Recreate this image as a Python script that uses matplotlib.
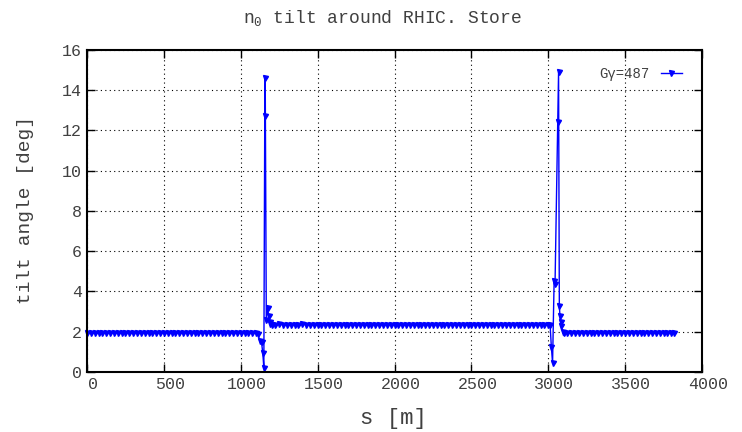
import matplotlib
matplotlib.use('Agg')
import matplotlib.pyplot as plt
import matplotlib.transforms as mtransforms

# s positions [m] and n0 tilt [deg] around the ring, piece by piece
s_arc_a = [0, 25, 50, 75, 100, 125, 150, 175, 200, 225,
           250, 275, 300, 325, 350, 375, 400, 425, 450, 475,
           500, 525, 550, 575, 600, 625, 650, 675, 700, 725,
           750, 775, 800, 825, 850, 875, 900, 925, 950, 975,
           1000, 1025, 1050, 1075, 1100]
tilt_arc_a = [1.92, 1.92, 1.93, 1.92, 1.92, 1.92, 1.92, 1.93, 1.92, 1.92,
              1.92, 1.92, 1.92, 1.92, 1.92, 1.92, 1.92, 1.92, 1.92, 1.92,
              1.92, 1.92, 1.92, 1.95, 1.92, 1.92, 1.92, 1.92, 1.92, 1.92,
              1.92, 1.92, 1.92, 1.92, 1.92, 1.92, 1.92, 1.92, 1.92, 1.92,
              1.92, 1.92, 1.92, 1.92, 1.92]

s_ir_a = [1112, 1124, 1135, 1143, 1150, 1156, 1159, 1166, 1175, 1181, 1187, 1193]
tilt_ir_a = [1.90, 1.52, 1.48, 0.95, 0.22, 12.7, 14.6, 2.6, 3.2, 2.8, 2.5, 2.38]

s_arc_b = [1200, 1225, 1250, 1275, 1300, 1325, 1350, 1375, 1400, 1425,
           1450, 1475, 1500, 1525, 1550, 1575, 1600, 1625, 1650, 1675,
           1700, 1725, 1750, 1775, 1800, 1825, 1850, 1875, 1900, 1925,
           1950, 1975, 2000, 2025, 2050, 2075, 2100, 2125, 2150, 2175,
           2200, 2225, 2250, 2275, 2300, 2325, 2350, 2375, 2400, 2425,
           2450, 2475, 2500, 2525, 2550, 2575, 2600, 2625, 2650, 2675,
           2700, 2725, 2750, 2775, 2800, 2825, 2850, 2875, 2900, 2925,
           2950, 2975, 3000]
tilt_arc_b = [2.35, 2.35, 2.36, 2.35, 2.35, 2.35, 2.35, 2.35, 2.36, 2.35,
              2.35, 2.35, 2.35, 2.35, 2.35, 2.35, 2.35, 2.35, 2.35, 2.35,
              2.35, 2.35, 2.35, 2.35, 2.35, 2.33, 2.35, 2.35, 2.35, 2.35,
              2.35, 2.35, 2.35, 2.35, 2.35, 2.35, 2.35, 2.35, 2.35, 2.35,
              2.35, 2.35, 2.35, 2.35, 2.35, 2.35, 2.35, 2.35, 2.35, 2.35,
              2.35, 2.35, 2.33, 2.35, 2.35, 2.35, 2.35, 2.35, 2.35, 2.35,
              2.35, 2.35, 2.35, 2.35, 2.35, 2.35, 2.35, 2.35, 2.35, 2.35,
              2.35, 2.35, 2.35]

s_ir_b = [3012, 3020, 3028, 3038, 3044, 3062, 3067, 3072, 3076, 3080, 3086, 3094]
tilt_ir_b = [2.35, 1.25, 0.45, 4.5, 4.35, 12.4, 14.9, 3.3, 2.8, 2.5, 2.3, 2.0]

s_arc_c = [3100, 3125, 3150, 3175, 3200, 3225, 3250, 3275, 3300, 3325,
           3350, 3375, 3400, 3425, 3450, 3475, 3500, 3525, 3550, 3575,
           3600, 3625, 3650, 3675, 3700, 3725, 3750, 3775, 3800, 3820]
tilt_arc_c = [1.92, 1.92, 1.93, 1.92, 1.92, 1.93, 1.92, 1.92, 1.92, 1.92,
              1.92, 1.92, 1.92, 1.92, 1.92, 1.92, 1.92, 1.92, 1.92, 1.92,
              1.92, 1.92, 1.92, 1.92, 1.92, 1.92, 1.92, 1.92, 1.92, 1.92]

x_ticks = [0, 500, 1000, 1500, 2000, 2500, 3000, 3500, 4000]
y_ticks = [0, 2, 4, 6, 8, 10, 12, 14, 16]

plt.rcParams['font.family'] = ['Liberation Mono', 'DejaVu Sans Mono']
plt.rcParams['mathtext.fontset'] = 'custom'
plt.rcParams['mathtext.rm'] = 'Liberation Mono'
plt.rcParams['mathtext.default'] = 'rm'

txt = '#404040'

s = s_arc_a + s_ir_a + s_arc_b + s_ir_b + s_arc_c
tilt = tilt_arc_a + tilt_ir_a + tilt_arc_b + tilt_ir_b + tilt_arc_c

fig = plt.figure(figsize=(7.42, 4.32), dpi=100)
ax = fig.add_axes([0.1173, 0.1389, 0.8288, 0.7454])

ax.plot(s, tilt, color='blue', lw=1, marker='v', ms=3.6, clip_on=False,
        label='G\u03b3=487')

ax.set_xlim(0, 4000)
ax.set_ylim(0, 16)
ax.set_xticks(x_ticks)
ax.set_yticks(y_ticks)
ax.grid(True, color='black', linestyle=(0, (1, 3)), lw=0.8)
ax.tick_params(direction='in', top=True, right=True, length=6, width=1,
               labelsize=12, labelcolor=txt)
for sp in ax.spines.values():
    sp.set_linewidth(1.5)

# gnuplot-ish shift of the x tick labels
offset = mtransforms.ScaledTranslation(0.06, 0, fig.dpi_scale_trans)
for lab in ax.get_xticklabels():
    lab.set_transform(lab.get_transform() + offset)

fig.text(0.516, 0.958, 'n$_0$ tilt around RHIC. Store', ha='center', va='center',
         fontsize=13, color=txt)
fig.text(0.53, 0.032, 's [m]', ha='center', va='center', fontsize=16, color=txt)
fig.text(0.034, 0.514, 'tilt angle [deg]', ha='center', va='center',
         rotation=90, fontsize=14, color=txt)

ax.legend(loc='upper right', bbox_to_anchor=(0.987, 0.985), frameon=False,
          markerfirst=False, fontsize=10, handlelength=1.5, handletextpad=0.8,
          labelcolor=txt)

fig.savefig('out.png', dpi=100)
